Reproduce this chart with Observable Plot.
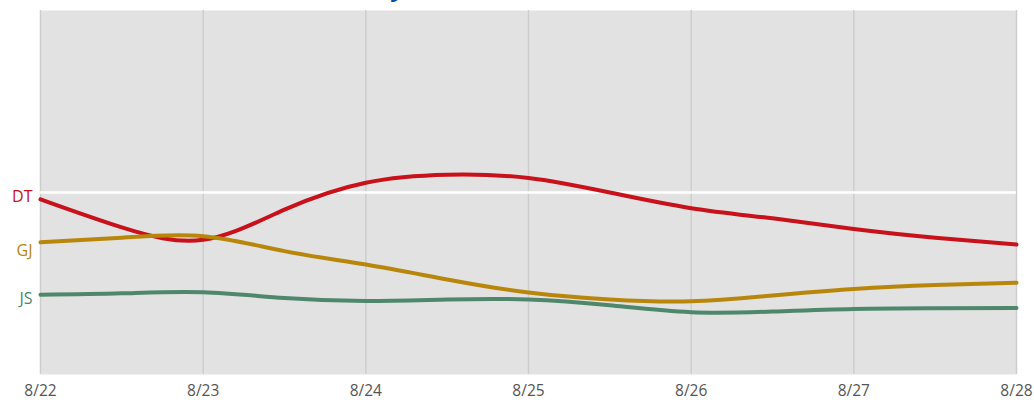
<!DOCTYPE html>
<html>
<head>
<meta charset="utf-8">
<script src="https://cdn.jsdelivr.net/npm/d3@7"></script>
<script src="https://cdn.jsdelivr.net/npm/@observablehq/plot@0.6"></script>
<style>
  html, body { margin: 0; padding: 0; background: #fff; }
  body { width: 1034px; height: 400px; position: relative; overflow: hidden; font-family: "Open Sans", sans-serif; }
  #title { position: absolute; left: 0; width: 404px; text-align: right; top: -25px; font: bold 24px "Open Sans", sans-serif; line-height: 24px; color: #0a4f9e; white-space: nowrap; }
  #chart { position: absolute; left: 0; top: 0; }
</style>
</head>
<body>
<div id="title">Trend Summary</div>
<div id="chart"></div>
<script>
// Time points (every half day, 8/22 to 8/28)
const times = [
  "2016-08-22T00:00Z","2016-08-22T12:00Z","2016-08-23T00:00Z","2016-08-23T12:00Z",
  "2016-08-24T00:00Z","2016-08-24T12:00Z","2016-08-25T00:00Z","2016-08-25T12:00Z",
  "2016-08-26T00:00Z","2016-08-26T12:00Z","2016-08-27T00:00Z","2016-08-27T12:00Z",
  "2016-08-28T00:00Z"
];
const series = ["DT", "GJ", "JS"];
const colors = ["#c8111a", "#b8860b", "#4e876c"];
const valuesDT = [48.1, 40.4, 37.0, 45.3, 52.7, 54.9, 54.0, 50.0, 45.7, 42.9, 40.0, 37.6, 35.7];
const valuesGJ = [36.3, 37.6, 38.0, 33.9, 30.2, 26.1, 22.5, 20.6, 20.1, 21.7, 23.5, 24.6, 25.2];
const valuesJS = [21.9, 22.3, 22.6, 21.0, 20.2, 20.6, 20.6, 19.0, 17.1, 17.3, 18.0, 18.2, 18.3];
const labelValues = [48.9, 34.1, 20.9];
const tickDates = ["2016-08-22","2016-08-23","2016-08-24","2016-08-25","2016-08-26","2016-08-27","2016-08-28"];
const refLine = [50];

const allValues = [valuesDT, valuesGJ, valuesJS];
const data = [];
series.forEach((s, i) => {
  times.forEach((t, j) => data.push({series: s, date: new Date(t), value: allValues[i][j]}));
});
const labels = series.map((s, i) => ({series: s, date: new Date(times[0]), value: labelValues[i]}));
const ticks = tickDates.map(d => new Date(d + "T00:00Z"));

const chart = Plot.plot({
  width: 1034,
  height: 400,
  marginLeft: 40,
  marginRight: 18,
  marginTop: 10,
  marginBottom: 26,
  style: { fontFamily: "'Open Sans', sans-serif", fontSize: "15px", background: "transparent" },
  x: { type: "utc", domain: [ticks[0], ticks[ticks.length - 1]] },
  y: { domain: [0, 100], axis: null },
  color: { domain: series, range: colors },
  marks: [
    Plot.frame({ fill: "#e2e2e2", stroke: null }),
    Plot.gridX(ticks, { stroke: "#cdcdcd", strokeOpacity: 1, strokeWidth: 1.5 }),
    Plot.ruleY(refLine, { stroke: "white", strokeWidth: 2.5 }),
    Plot.axisX(ticks, { tickSize: 0, tickPadding: 10, tickFormat: d3.utcFormat("%-m/%-d"), fill: "#555", fontSize: 15.5, label: null }),
    Plot.line(data, { x: "date", y: "value", z: "series", stroke: "series", strokeWidth: 4, curve: "natural" }),
    Plot.text(labels, { x: "date", y: "value", text: "series", fill: "series", textAnchor: "end", dx: -8, fontSize: 16 })
  ]
});
document.getElementById("chart").appendChild(chart);
</script>
</body>
</html>
